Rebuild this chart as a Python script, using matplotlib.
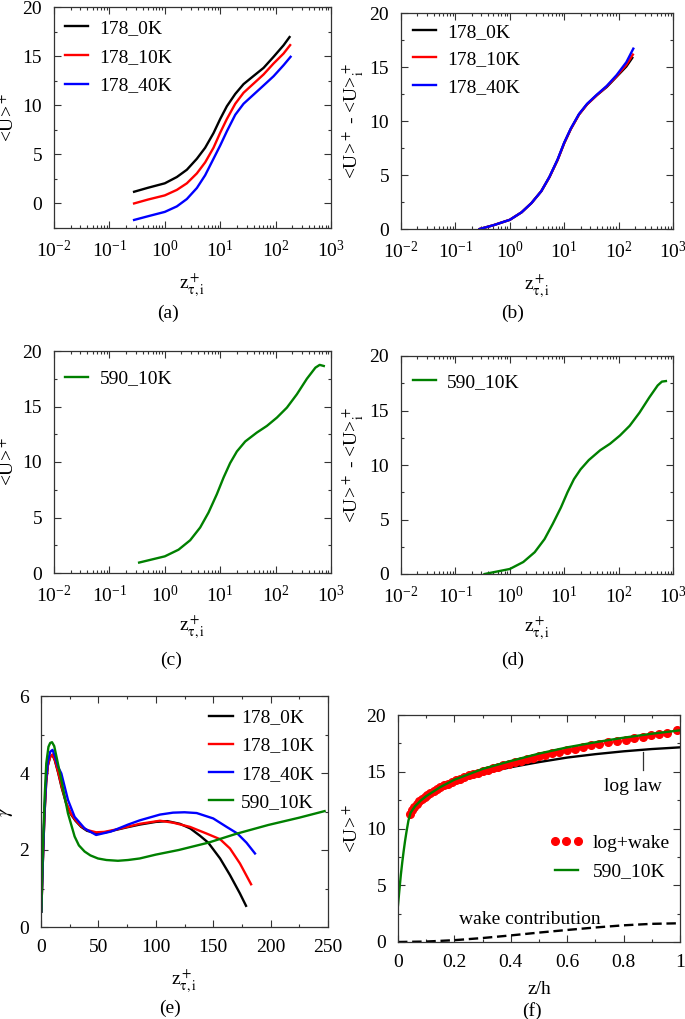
import matplotlib
matplotlib.use("Agg")
import matplotlib.pyplot as plt
from matplotlib.ticker import MultipleLocator, LogLocator, FuncFormatter, NullFormatter
from matplotlib.legend_handler import HandlerLine2D

plt.rcParams["font.family"] = ["Liberation Serif", "DejaVu Serif"]
plt.rcParams["mathtext.fontset"] = "stix"
plt.rcParams["font.size"] = 14

# ---- data ----
cases178 = ["178_0K", "178_10K", "178_40K"]
colors178 = ["black", "red", "blue"]

# panel (a): <U>+ vs z+
za = [0.279, 0.5, 1, 1.65, 2.5, 3.79, 5.35, 7.57, 10, 13.2, 18.7, 26.4, 40, 60.6, 91.9, 139]
z178_end = [178.6, 183, 186.4]
ua_0K = [1.19, 1.6, 2.05, 2.69, 3.43, 4.55, 5.67, 7.16, 8.6, 9.9, 11.15, 12.15, 12.98, 13.8, 14.93, 16.1, 16.94]
ua_10K = [0.0, 0.4, 0.82, 1.38, 2.05, 3.06, 4.18, 5.67, 7.2, 8.6, 10.15, 11.27, 12.2, 13.13, 14.25, 15.26, 16.12]
ua_40K = [-1.68, -1.3, -0.86, -0.3, 0.45, 1.57, 2.87, 4.55, 5.9, 7.35, 9.03, 10.15, 11.08, 12.01, 12.95, 14.07, 14.93]
ua178 = [ua_0K, ua_10K, ua_40K]

# panel (b): <U>+ - <U>+_i
ub_0K = [0.0, 0.35, 0.85, 1.55, 2.4, 3.5, 4.8, 6.4, 7.95, 9.25, 10.6, 11.55, 12.4, 13.15, 14.1, 15.05, 15.85]
ub_10K = [0.0, 0.35, 0.85, 1.55, 2.4, 3.5, 4.8, 6.4, 7.95, 9.25, 10.6, 11.55, 12.4, 13.2, 14.15, 15.2, 16.15]
ub_40K = [0.0, 0.35, 0.85, 1.55, 2.4, 3.5, 4.83, 6.45, 8.0, 9.3, 10.65, 11.6, 12.45, 13.25, 14.25, 15.45, 16.7]
ub178 = [ub_0K, ub_10K, ub_40K]

# panels (c), (d): 590_10K
z590 = [0.344, 1, 1.77, 2.87, 4.35, 6.16, 8.7, 11.5, 15.1, 20, 28.3, 45.8, 69.6, 105.6, 160, 242, 367, 523, 625, 741]
uc590 = [0.94, 1.5, 2.1, 2.95, 4.1, 5.45, 7.1, 8.6, 9.9, 10.95, 11.85, 12.65, 13.25, 14.0, 14.9, 16.1, 17.5, 18.5, 18.75, 18.65]
ud590 = [0.0, 0.46, 1.1, 2.0, 3.2, 4.6, 6.1, 7.5, 8.7, 9.6, 10.45, 11.35, 11.95, 12.7, 13.6, 14.8, 16.2, 17.3, 17.65, 17.7]

# panel (e): gamma
g_x_0K = [0.3, 1.5, 3, 4.5, 6, 8, 10, 12, 15, 18, 22, 26, 30, 35, 40, 48, 55, 65, 75, 86, 100, 110, 121, 130, 138.5, 145.7, 156, 164.6, 173.3, 178.6]
g_y_0K = [0.4, 1.6, 2.9, 3.75, 4.2, 4.42, 4.47, 4.33, 4.0, 3.62, 3.2, 2.93, 2.76, 2.6, 2.5, 2.43, 2.45, 2.52, 2.59, 2.66, 2.73, 2.75, 2.68, 2.56, 2.37, 2.19, 1.78, 1.35, 0.87, 0.55]
g_x_10K = [0.3, 1.5, 3, 4.5, 6, 8, 10, 12, 15, 18, 22, 26, 30, 35, 40, 48, 55, 65, 75, 86, 103.6, 115, 129.8, 144, 156, 164.6, 173.3, 183]
g_y_10K = [0.4, 1.6, 2.9, 3.75, 4.2, 4.42, 4.48, 4.35, 4.02, 3.65, 3.22, 2.95, 2.78, 2.62, 2.52, 2.46, 2.47, 2.53, 2.6, 2.68, 2.76, 2.71, 2.6, 2.43, 2.28, 2.04, 1.65, 1.11]
g_x_40K = [0.3, 1.5, 3, 4.5, 6, 8, 10, 12, 15, 17.7, 23.5, 29.3, 38, 48, 61, 75.8, 86, 103.6, 115, 125, 135.6, 150, 161.7, 171, 179, 186.4]
g_y_40K = [0.4, 1.65, 3.0, 3.85, 4.3, 4.55, 4.6, 4.45, 4.15, 3.99, 3.3, 2.86, 2.56, 2.39, 2.48, 2.66, 2.77, 2.92, 2.97, 2.98, 2.96, 2.82, 2.6, 2.43, 2.19, 1.91]
g_x_590 = [0.3, 1.5, 3.2, 4.6, 6.5, 8, 9.6, 11.5, 14, 17.7, 20.5, 23.5, 29.3, 33, 38, 43, 49.6, 57, 67, 75.8, 86, 100, 120, 145.7, 170, 198, 225, 247]
g_y_590 = [0.4, 1.9, 3.38, 4.25, 4.68, 4.78, 4.8, 4.7, 4.35, 3.82, 3.4, 2.95, 2.35, 2.12, 1.96, 1.86, 1.78, 1.74, 1.72, 1.74, 1.78, 1.88, 2.0, 2.19, 2.42, 2.65, 2.84, 3.01]

# panel (f): log law / log+wake / DNS vs z/h
lw_zh = [0.043, 0.06, 0.08, 0.1, 0.15, 0.2, 0.25, 0.3, 0.4, 0.5, 0.6, 0.7, 0.8, 0.9, 1.0]
loglaw = [11.28, 11.9, 12.4, 12.8, 13.55, 14.1, 14.5, 14.85, 15.4, 15.85, 16.25, 16.55, 16.8, 17.0, 17.15]
wake_zh = [0.0, 0.1, 0.2, 0.3, 0.4, 0.5, 0.6, 0.7, 0.8, 0.9, 1.0]
wake = [0.0, 0.04, 0.16, 0.35, 0.58, 0.83, 1.06, 1.28, 1.47, 1.6, 1.65]
lwk_zh = [0.043, 0.05, 0.058, 0.066, 0.075, 0.084, 0.094, 0.104, 0.115, 0.126, 0.138, 0.150, 0.163,
          0.176, 0.190, 0.204, 0.219, 0.234, 0.250, 0.266, 0.283, 0.300, 0.318, 0.336, 0.355, 0.374,
          0.394, 0.414, 0.435, 0.456, 0.478, 0.500, 0.523, 0.547, 0.572, 0.598, 0.626, 0.655, 0.684,
          0.714, 0.745, 0.776, 0.808, 0.838, 0.868, 0.896, 0.924, 0.954, 0.988]
lwk = [11.28, 11.6, 11.9, 12.15, 12.4, 12.6, 12.8, 12.98, 13.17, 13.33, 13.5, 13.65, 13.8,
       13.95, 14.1, 14.25, 14.4, 14.53, 14.67, 14.8, 14.93, 15.06, 15.19, 15.32, 15.45, 15.58,
       15.71, 15.83, 15.96, 16.09, 16.22, 16.35, 16.48, 16.62, 16.76, 16.9, 17.04, 17.18, 17.32,
       17.45, 17.58, 17.71, 17.84, 17.96, 18.08, 18.2, 18.32, 18.45, 18.65]
dns_zh = [0.0, 0.005, 0.01, 0.015, 0.02, 0.025, 0.03, 0.037, 0.045, 0.06, 0.08, 0.1, 0.15, 0.2, 0.3, 0.4, 0.5, 0.6, 0.7, 0.8, 0.9, 1.0]
dns = [3.24, 4.6, 5.9, 7.0, 8.0, 8.9, 9.7, 10.7, 11.4, 11.95, 12.45, 12.85, 13.65, 14.3, 15.25, 15.95, 16.6, 17.15, 17.6, 18.0, 18.35, 18.65]

GREEN = "#008000"
FRAME = "#333333"
LW = 1.7


def box(l, t, r, b):
    return [l / 685, 1 - b / 1019, (r - l) / 685, (b - t) / 1019]


def style(ax):
    ax.tick_params(which="both", direction="in", top=True, right=True, color=FRAME, pad=8.5, labelsize=14)
    ax.tick_params(which="major", length=5, width=0.8)
    ax.tick_params(which="minor", length=2.5, width=0.8)
    for s in ax.spines.values():
        s.set_color(FRAME); s.set_linewidth(0.9)


def logx(ax):
    ax.set_xscale("log")
    ax.set_xlim(1e-2, 1e3)
    ax.xaxis.set_major_locator(LogLocator(base=10, numticks=10))
    ax.xaxis.set_minor_locator(LogLocator(base=10, subs=range(2, 10), numticks=20))
    ax.xaxis.set_minor_formatter(NullFormatter())


def yticks(ax, major, minor):
    ax.yaxis.set_major_locator(MultipleLocator(major)); ax.yaxis.set_minor_locator(MultipleLocator(minor))


def leg(ax, fx, fy, **kw):
    opts = dict(loc="upper left", bbox_to_anchor=(fx, fy), borderpad=0, borderaxespad=0, frameon=False,
                handlelength=1.2, handletextpad=0.58, labelspacing=0.5, fontsize=14)
    opts.update(kw)
    ax.legend(**opts)


XLAB = r"z$^+_{\mathrm{τ,i}}$"
ULAB = r"<U>$^+$"
DLAB = r"<U>$^+$ - <U>$^+_\mathrm{i}$"
fig = plt.figure(figsize=(6.85, 10.19), dpi=100)

# (a)
ax = fig.add_axes(box(54, 7, 331, 228))
for name, c, u, ze in zip(cases178, colors178, ua178, z178_end):
    ax.plot(za + [ze], u, color=c, lw=LW, label=name)
logx(ax); ax.set_ylim(-2.5, 20); yticks(ax, 5, 2.5)
ax.set_ylabel(ULAB, labelpad=3); ax.set_xlabel(XLAB, labelpad=7.5)
style(ax); leg(ax, 0.04, 0.943, labelspacing=0.57)

# (b)
ax = fig.add_axes(box(401, 13, 673, 229))
for name, c, u, ze in zip(cases178, colors178, ub178, z178_end):
    ax.plot(za + [ze], u, color=c, lw=LW, label=name)
logx(ax); ax.set_ylim(0, 20); yticks(ax, 5, 2.5)
ax.set_ylabel(DLAB, labelpad=3); ax.set_xlabel(XLAB, labelpad=8)
style(ax); leg(ax, 0.043, 0.953, labelspacing=0.51)

# (c)
ax = fig.add_axes(box(54, 351, 331, 573))
ax.plot(z590, uc590, color=GREEN, lw=LW, label="590_10K")
logx(ax); ax.set_ylim(0, 20); yticks(ax, 5, 2.5)
ax.set_ylabel(ULAB, labelpad=3); ax.set_xlabel(XLAB, labelpad=5.5)
style(ax); leg(ax, 0.04, 0.915)

# (d)
ax = fig.add_axes(box(401, 356, 673, 574))
ax.plot(z590, ud590, color=GREEN, lw=LW, label="590_10K")
logx(ax); ax.set_ylim(0, 20); yticks(ax, 5, 2.5)
ax.set_ylabel(DLAB, labelpad=3); ax.set_xlabel(XLAB, labelpad=5.5)
style(ax); leg(ax, 0.043, 0.921)

# (e)
ax = fig.add_axes(box(41, 696, 328, 927))
ax.plot(g_x_0K, g_y_0K, color="black", lw=LW, label="178_0K")
ax.plot(g_x_10K, g_y_10K, color="red", lw=LW, label="178_10K")
ax.plot(g_x_40K, g_y_40K, color="blue", lw=LW, label="178_40K")
ax.plot(g_x_590, g_y_590, color=GREEN, lw=LW, label="590_10K")
ax.set_xlim(0, 250); ax.set_ylim(0, 6)
ax.xaxis.set_major_locator(MultipleLocator(50)); ax.xaxis.set_minor_locator(MultipleLocator(25))
yticks(ax, 2, 1)
ax.set_ylabel(r"$\gamma$", labelpad=3); ax.set_xlabel(XLAB, labelpad=9)
style(ax); leg(ax, 0.586, 0.945, handletextpad=0.45, labelspacing=0.55)

# (f)
ax = fig.add_axes(box(398, 715, 680, 942))
ax.plot(lw_zh, loglaw, color="black", lw=LW)
ax.plot(wake_zh, wake, color="black", lw=LW, dashes=(4, 2))
ax.plot(lwk_zh, lwk, ls="none", marker="o", ms=5.5, color="red", mec="red", label="log+wake")
ax.plot(dns_zh, dns, color=GREEN, lw=LW, label="590_10K")
ax.plot([0.868, 0.868], [16.75, 15.15], color=FRAME, lw=0.9)
ax.text(0.832, 13.7, "log law", ha="center", va="center", fontsize=14)
ax.text(0.466, 2.0, "wake contribution", ha="center", va="center", fontsize=14)
ax.set_xlim(0, 1); ax.set_ylim(0, 20)
ax.xaxis.set_major_locator(MultipleLocator(0.2)); ax.xaxis.set_minor_locator(MultipleLocator(0.1))
ax.xaxis.set_major_formatter(FuncFormatter(lambda v, p: f"{v:g}"))
yticks(ax, 5, 2.5)
ax.set_ylabel(ULAB, labelpad=3); ax.set_xlabel("z/h", labelpad=7)
style(ax)
leg(ax, 0.556, 0.475, numpoints=3, handletextpad=0.74, labelspacing=0.57,
    handler_map={matplotlib.lines.Line2D: HandlerLine2D(marker_pad=0)})

# panel tags
for tag, x, y in [("(a)", 168, 313), ("(b)", 513, 313), ("(c)", 171, 660),
                  ("(d)", 513, 660), ("(e)", 170, 1008), ("(f)", 532, 1011)]:
    fig.text(x / 685, 1 - y / 1019, tag, ha="center", va="center", fontsize=14)

fig.savefig("out.png", dpi=100)
